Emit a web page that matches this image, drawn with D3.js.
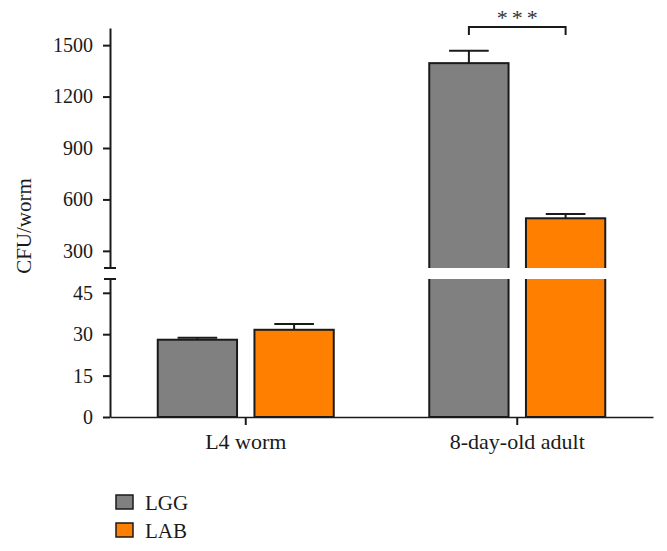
<!DOCTYPE html>
<html><head><meta charset="utf-8">
<script src="https://cdn.jsdelivr.net/npm/d3@7"></script>
<style>body{margin:0;background:#fff}svg{display:block}</style>
</head><body>
<svg id="c" width="667" height="551"></svg>
<script>
const categories = ["L4 worm", "8-day-old adult"];
const series = ["LGG", "LAB"];
const means = {LGG: [28, 1395], LAB: [31.6, 490]};
const errors = {LGG: [0.7, 72], LAB: [2.1, 25]};
const lowerTicks = [0, 15, 30, 45];
const upperTicks = [300, 600, 900, 1200, 1500];
const colors = {LGG: "#808080", LAB: "#ff8000"};

const svg = d3.select("#c");
const font = "'Liberation Serif', 'DejaVu Serif', serif";
const stroke = "#1a1a1a";

const x0 = d3.scaleBand().domain(categories).range([110, 653]);
const x1 = d3.scaleBand().domain(series).range([0, 176]).paddingInner(0.18);
const groupOffset = (x0.bandwidth() - 176) / 2;

const yLow = d3.scaleLinear().domain([0, 50]).range([417, 279]);
const yUp = d3.scaleLinear().domain([200, 1600]).range([268, 28]);
const yOf = v => v <= 50 ? yLow(v) : yUp(v);

// bars
categories.forEach((c, ci) => {
  series.forEach(s => {
    const v = means[s][ci], e = errors[s][ci];
    const bx = x0(c) + groupOffset + x1(s), bw = x1.bandwidth();
    const top = yOf(v);
    const et = yOf(v + e);
    svg.append("line").attr("x1", bx + bw/2).attr("x2", bx + bw/2)
      .attr("y1", top).attr("y2", et).attr("stroke", stroke).attr("stroke-width", 2);
    svg.append("line").attr("x1", bx + bw/4).attr("x2", bx + 3*bw/4)
      .attr("y1", et).attr("y2", et).attr("stroke", stroke).attr("stroke-width", 2);
    svg.append("rect").attr("x", bx).attr("y", top).attr("width", bw)
      .attr("height", yLow(0) - top).attr("fill", colors[s])
      .attr("stroke", stroke).attr("stroke-width", 2);
    if (v > 50) {
      svg.append("rect").attr("x", bx - 2).attr("y", yUp(200)).attr("width", bw + 4)
        .attr("height", yLow(50) - yUp(200)).attr("fill", "#fff");
    }
  });
});

// y axes
const fmt = d3.format("d");
const axUp = svg.append("g").attr("transform", "translate(110,0)")
  .call(d3.axisLeft(yUp).tickValues(upperTicks).tickFormat(fmt).tickSize(7).tickSizeOuter(0).tickPadding(10));
const axLow = svg.append("g").attr("transform", "translate(110,0)")
  .call(d3.axisLeft(yLow).tickValues(lowerTicks).tickFormat(fmt).tickSize(7).tickSizeOuter(0).tickPadding(10));
[axUp, axLow].forEach(a => {
  a.attr("font-family", font).attr("font-size", 20);
  a.selectAll("path,line").attr("stroke", stroke).attr("stroke-width", 2);
  a.selectAll("text").attr("fill", "#1a1a1a");
});
// break caps
[yUp(200), yLow(50)].forEach(y => {
  svg.append("line").attr("x1", 104).attr("x2", 116).attr("y1", y).attr("y2", y)
    .attr("stroke", stroke).attr("stroke-width", 2);
});

// x axis
const ax = svg.append("g").attr("transform", `translate(0,${yLow(0)})`)
  .call(d3.axisBottom(x0).tickSize(8).tickSizeOuter(0).tickPadding(8));
ax.attr("font-family", font).attr("font-size", 22);
ax.selectAll("path,line").attr("stroke", stroke).attr("stroke-width", 2);
ax.select("path").attr("stroke-width", 1.5);
ax.selectAll("text").attr("fill", "#1a1a1a");

// y label
svg.append("text").attr("transform", "translate(31,226) rotate(-90)")
  .attr("text-anchor", "middle").attr("font-family", font).attr("font-size", 21)
  .attr("fill", "#1a1a1a").text("CFU/worm");

// significance bracket
const c2 = categories[1];
const bxL = x0(c2) + groupOffset + x1("LGG") + x1.bandwidth()/2;
const bxR = x0(c2) + groupOffset + x1("LAB") + x1.bandwidth()/2;
svg.append("path").attr("d", `M${bxL},35V27H${bxR}V35`).attr("fill", "none")
  .attr("stroke", stroke).attr("stroke-width", 2);
svg.append("text").attr("x", (bxL + bxR)/2 + 2).attr("y", 25).attr("text-anchor", "middle")
  .attr("font-family", font).attr("font-size", 22).attr("fill", "#333")
  .attr("letter-spacing", 4).text("***");

// legend
series.forEach((s, i) => {
  const y = 495 + i * 28;
  svg.append("rect").attr("x", 116).attr("y", y).attr("width", 17).attr("height", 14)
    .attr("fill", colors[s]).attr("stroke", stroke).attr("stroke-width", 1.5);
  svg.append("text").attr("x", 145).attr("y", y + 15).attr("font-family", font)
    .attr("font-size", 21).attr("fill", "#1a1a1a").text(s);
});
</script>
</body></html>
